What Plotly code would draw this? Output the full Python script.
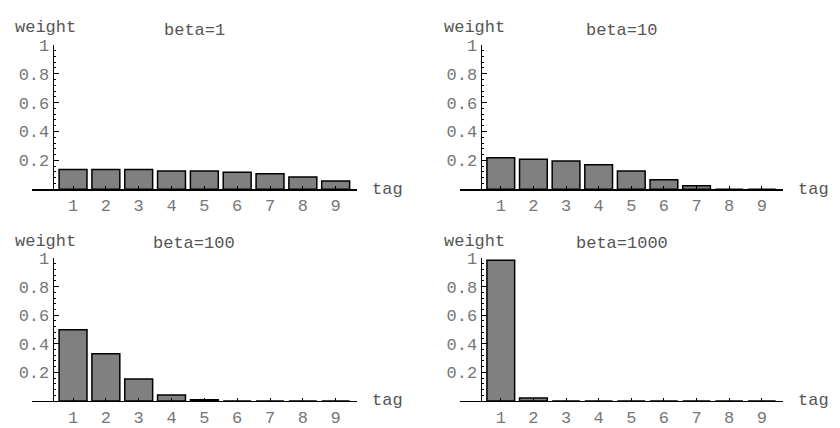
import plotly.graph_objects as go

tags = [1, 2, 3, 4, 5, 6, 7, 8, 9]
titles = ["beta=1", "beta=10", "beta=100", "beta=1000"]
w_beta1 = [0.137, 0.137, 0.137, 0.127, 0.127, 0.118, 0.107, 0.085, 0.057]
w_beta10 = [0.218, 0.207, 0.196, 0.170, 0.126, 0.065, 0.024, 0.0, 0.0]
w_beta100 = [0.498, 0.331, 0.154, 0.042, 0.009, 0.0, 0.0, 0.0, 0.0]
w_beta1000 = [0.985, 0.02, 0.0, 0.0, 0.0, 0.0, 0.0, 0.0, 0.0]
y_tickvals = [0.2, 0.4, 0.6, 0.8, 1.0]
y_ticktext = ["0.2", "0.4", "0.6", "0.8", "1"]
series = [w_beta1, w_beta10, w_beta100, w_beta1000]

W, H = 840, 428
FONT = "Liberation Mono, Courier New, monospace"
FS = 17
TXT = "#555555"
NUM = "#777777"

# pixel layout of each panel: (x-axis left, x-axis right, y px of 0, y px of 1)
panels = [(32, 357, 192, 39), (460, 783, 192, 39),
          (32, 357, 416.3, 265), (460, 783, 416.3, 265)]
weight_left = [13, 442, 13, 442]
xr = [-0.25, 9.65]
yaxis_at = 0.38

fig = go.Figure()
for i, (vals, title, (xl, xrgt, y0, y1)) in enumerate(zip(series, titles, panels)):
    n = "" if i == 0 else str(i + 1)
    fig.add_trace(go.Bar(x=tags, y=vals, width=0.85,
                         marker=dict(color="#808080", line=dict(color="black", width=1.5)),
                         xaxis="x" + n, yaxis="y" + n, showlegend=False, hoverinfo="skip"))
    xdom = [xl / W, xrgt / W]
    ydom = [1 - y0 / H, 1 - y1 / H]
    pos = xdom[0] + (yaxis_at - xr[0]) / (xr[1] - xr[0]) * (xdom[1] - xdom[0])
    fig.layout["xaxis" + n] = dict(
        domain=xdom, range=xr, anchor="y" + n, showgrid=False, zeroline=False,
        showline=True, linecolor="black", linewidth=1.5,
        tickmode="array", tickvals=tags, ticks="inside", ticklen=3,
        tickcolor="black", tickwidth=1,
        tickfont=dict(family=FONT, size=FS, color=NUM), fixedrange=True)
    fig.layout["yaxis" + n] = dict(
        domain=ydom, range=[0, 1.0], anchor="free", position=pos,
        showgrid=False, zeroline=False, showline=True, linecolor="black", linewidth=1.5,
        tickmode="array", tickvals=y_tickvals, ticktext=y_ticktext,
        ticks="inside", ticklen=5, tickcolor="black", tickwidth=1,
        minor=dict(tickmode="linear", tick0=0, dtick=0.04, ticks="inside",
                   ticklen=2, tickcolor="black", tickwidth=1, showgrid=False),
        tickfont=dict(family=FONT, size=FS, color=NUM), fixedrange=True)
    xref = "x" + n + " domain"
    yref = "y" + n + " domain"
    hpx = y0 - y1
    wpx = xrgt - xl
    fig.add_annotation(text="weight", xref=xref, yref=yref, x=(weight_left[i] - xl) / wpx,
                       y=1 + 18 / hpx, xanchor="left", yanchor="middle", showarrow=False,
                       font=dict(family=FONT, size=FS, color=TXT))
    fig.add_annotation(text=title, xref=xref, yref=yref, x=0.5,
                       y=1 + 15 / hpx, xanchor="center", yanchor="middle", showarrow=False,
                       font=dict(family=FONT, size=FS, color=TXT))
    fig.add_annotation(text="tag", xref=xref, yref=yref, x=1 + 13 / wpx,
                       y=0, xanchor="left", yanchor="middle", showarrow=False,
                       font=dict(family=FONT, size=FS, color=TXT))

fig.update_layout(width=W, height=H, margin=dict(l=0, r=0, t=0, b=0),
                  paper_bgcolor="white", plot_bgcolor="white", bargap=0,
                  hovermode=False)
css = ("html,body{margin:0!important;padding:0!important;overflow:hidden!important;"
       "width:840px;height:428px}")
post = ("var s=document.createElement('style');s.textContent='" + css + "';"
        "document.head.appendChild(s);window.scrollTo(0,0);")
fig.write_html("out.html", config={"displayModeBar": False, "staticPlot": True},
               post_script=post)
